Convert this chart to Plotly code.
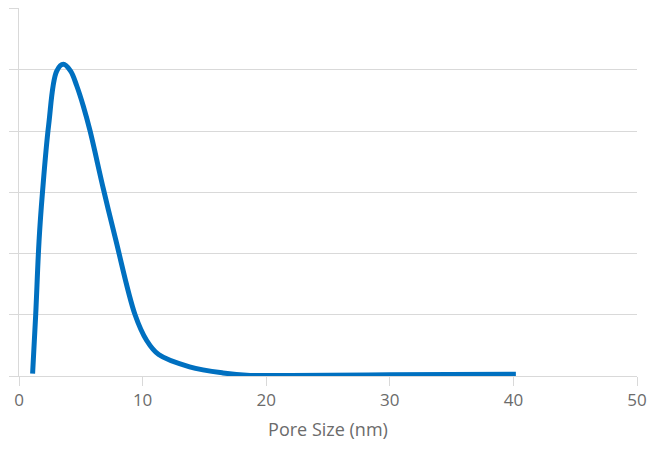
import plotly.graph_objects as go

# pore size distribution
pore_size = [1.1, 1.35, 1.62, 1.9, 2.4, 3.05, 3.59, 4.18, 4.67, 5.2, 5.74,
             6.82, 7.82, 9.39, 10.33, 11.3, 13.8, 16.5, 18.7, 22, 30, 40.2]
volume = [0.04, 1.0, 2.2, 3.0, 4.1, 4.98, 5.09, 4.98, 4.74, 4.41, 4.01,
          3.06, 2.23, 1.0, 0.58, 0.35, 0.15, 0.05, 0.01, 0.01, 0.02, 0.03]

x_ticks = [0, 10, 20, 30, 40, 50]

GRID = "#d9d9d9"
TEXT = "#6b6b6b"

fig = go.Figure()
fig.add_trace(
    go.Scatter(
        x=pore_size,
        y=volume,
        mode="lines",
        line=dict(color="#0070c0", width=5, shape="spline", smoothing=1.0),
        showlegend=False,
        hoverinfo="x+y",
    )
)

# page body adds an 8px offset, margins compensate for it
fig.update_layout(
    width=664,
    height=450,
    margin=dict(l=11, r=35, t=0, b=82),
    paper_bgcolor="white",
    plot_bgcolor="white",
    font=dict(family="Open Sans, Noto Sans, sans-serif", color=TEXT, size=17),
)

fig.update_xaxes(
    range=[0, 50],
    tickvals=x_ticks,
    ticks="outside",
    ticklen=9,
    tickcolor=GRID,
    showgrid=False,
    showline=True,
    linecolor=GRID,
    linewidth=1,
    zeroline=False,
    automargin=False,
    tickfont=dict(size=17, color=TEXT),
    title=dict(text="Pore Size (nm)", font=dict(size=18, color=TEXT), standoff=12),
)
fig.update_yaxes(
    range=[0, 6.01],
    tickvals=[0, 1, 2, 3, 4, 5, 6],
    showticklabels=False,
    ticks="outside",
    ticklen=9,
    tickcolor=GRID,
    showgrid=True,
    gridcolor=GRID,
    gridwidth=1,
    showline=True,
    linecolor=GRID,
    zeroline=False,
    automargin=False,
)

fig.write_html("out.html")
